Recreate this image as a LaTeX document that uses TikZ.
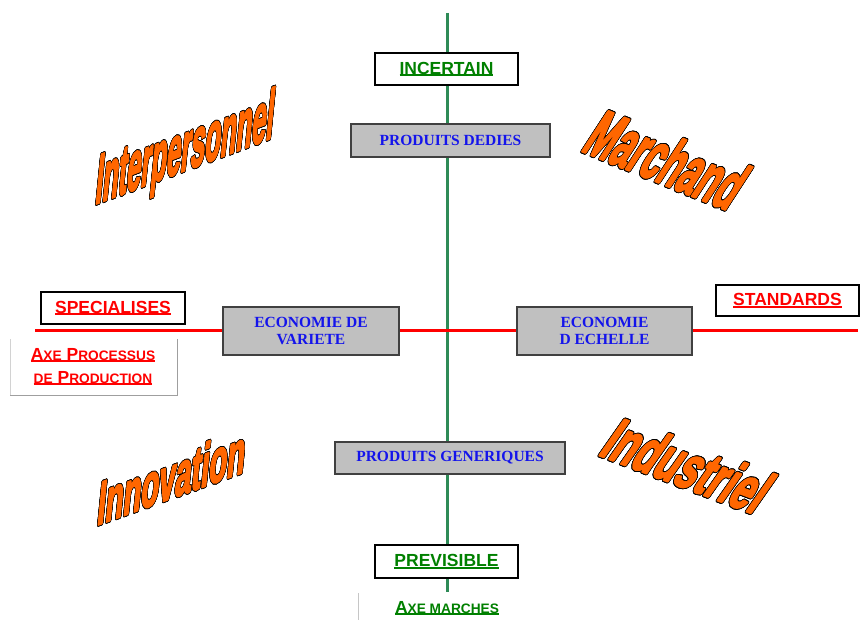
\documentclass[tikz,border=0pt]{standalone}
\usepackage{fontspec}
\setmainfont{Liberation Serif}
\newfontfamily\arialf{Liberation Sans}
\newfontfamily\wordf{Liberation Sans}[UprightFont={* Bold}, FakeBold=4]
\usepackage{contour}
\contourlength{0.8pt}
\definecolor{axegreen}{RGB}{46,139,87}
\definecolor{txtgreen}{RGB}{0,128,0}
\definecolor{boxgray}{RGB}{192,192,192}
\definecolor{wordorange}{RGB}{255,102,0}
\definecolor{txtblue}{RGB}{20,20,235}
\newcommand\myul[1]{\setbox0\hbox{#1}\rlap{\rule[-1.9pt]{\wd0}{1.6pt}}\box0}
\newcommand\bigs{\fontsize{17.5}{20}\selectfont}
\newcommand\smls{\fontsize{13.7}{15}\selectfont}
\begin{document}
\begin{tikzpicture}[x=1pt,y=-1pt,
 wbox/.style={draw=black, line width=1.3pt, fill=white, inner sep=0pt, minimum width=143pt, minimum height=32pt, font=\arialf\bfseries\bigs},
 gbox/.style={draw=black!75, line width=1.2pt, fill=boxgray, inner sep=0pt, font=\bfseries\fontsize{15.5}{17}\selectfont, text=txtblue, align=center},
 wordart/.style={inner sep=0pt, line join=round, font=\wordf},
 axlabel/.style={anchor=base, inner sep=0pt, font=\arialf\bfseries\bigs},
 frameline/.style={line width=0.8pt},
]
\useasboundingbox (0,0) rectangle (862,620);
% axes
\coordinate (vtop) at (447,13);
\coordinate (vbot) at (447,592);
\coordinate (hl) at (35,330);
\coordinate (hr) at (858,330);
\draw[axegreen, line width=3pt] (vtop) -- (vbot);
\draw[red, line width=3pt] (hl) -- (hr);
% white label boxes
\node[wbox, text=txtgreen] (inc) at (446.5,69) {\myul{INCERTAIN}};
\node[wbox, text=txtgreen, minimum height=33pt] (prev) at (446.5,561.5) {\myul{PREVISIBLE}};
\node[wbox, text=red, minimum width=144pt] (spec) at (113,308) {\myul{SPECIALISES}};
\node[wbox, text=red, minimum height=31pt] (stand) at (787.5,300.5) {\myul{STANDARDS}};
% gray boxes
\node[gbox, minimum width=199pt, minimum height=33pt] (pdd) at (450.5,140.5) {PRODUITS DEDIES};
\node[gbox, minimum width=230pt, minimum height=32pt] (pgen) at (450,458) {PRODUITS GENERIQUES};
\node[gbox, minimum width=176pt, minimum height=48pt] (ecov) at (311,331) {ECONOMIE DE\\VARIETE};
\node[gbox, minimum width=175pt, minimum height=48pt] (ecoe) at (604.5,331) {ECONOMIE\\D ECHELLE};
% axis names
\coordinate (fa) at (10,339);
\coordinate (fb) at (10,395);
\coordinate (fc) at (177,395);
\coordinate (fd) at (177,339);
\draw[frameline, gray!35] (fa) -- (fb);
\draw[frameline, gray!75] (fb) -- (fc) -- (fd);
\node[axlabel, text=red] (ap1) at (93,360) {\myul{A{\smls XE} P{\smls ROCESSUS}}};
\node[axlabel, text=red] (ap2) at (93,383) {\myul{{\smls DE} P{\smls RODUCTION}}};
\coordinate (ga) at (358,593);
\coordinate (gb) at (358,620);
\draw[frameline, gray!45] (ga) -- (gb);
\node[axlabel, text=txtgreen] (am) at (447,613) {\myul{A{\smls XE MARCHES}}};
% word art
\node[wordart, cm={0.36,0.135,0.1,1,(0,0)}] (w1) at (185,153) {\fontsize{71}{71}\selectfont\color{wordorange}\contour{black}{Interpersonnel}};
\node[wordart, cm={0.54,-0.22,0.65,1,(0,0)}] (w2) at (667,160) {\fontsize{58}{58}\selectfont\color{wordorange}\contour{black}{Marchand}};
\node[wordart, cm={0.47,0.17,0.1,1,(0,0)}] (w3) at (172,477) {\fontsize{62}{62}\selectfont\color{wordorange}\contour{black}{Innovation}};
\node[wordart, cm={0.67,-0.255,0.7,1,(0,0)}] (w4) at (688,466) {\fontsize{52}{52}\selectfont\color{wordorange}\contour{black}{Industriel}};
\end{tikzpicture}
\end{document}
